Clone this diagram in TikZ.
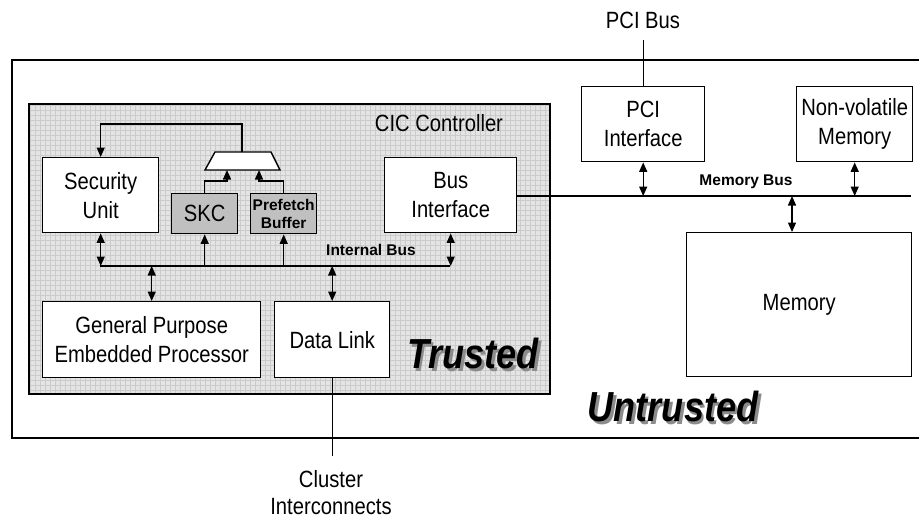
\documentclass[tikz,border=0pt]{standalone}
\usepackage{fontspec}
\setmainfont{Liberation Sans}[FakeStretch=0.86]
\newfontfamily\plainsans{Liberation Sans}
\usetikzlibrary{arrows.meta,calc}

\definecolor{trustbg}{RGB}{228,228,228}
\definecolor{gridln}{RGB}{203,203,203}
\definecolor{unitgray}{RGB}{192,192,192}
\definecolor{shade}{RGB}{140,140,140}

% bold italic word with an offset grey shadow behind it
\newcommand\shadowword[1]{\rlap{\hspace{2.8pt}\raisebox{-2.8pt}{\textcolor{shade}{#1}}}#1}

\begin{document}
\begin{tikzpicture}[x=1pt,y=-1pt,
  >={Triangle[length=9.5pt,width=8pt]},
  wire/.style={line width=1.4pt},
  box/.style={draw,line width=1.4pt,fill=white,inner sep=0pt,align=center,
    anchor=north west,font=\fontsize{23.5}{29}\selectfont},
  graybox/.style={box,fill=unitgray},
  boldlbl/.style={font=\plainsans\bfseries\fontsize{15.5}{18}\selectfont},
  reglbl/.style={align=center,font=\fontsize{23.5}{27}\selectfont},
  zone/.style={font=\bfseries\itshape\fontsize{42}{46}\selectfont}]

\useasboundingbox (0,0) rectangle (919,519);

% untrusted enclosure (right side runs off the page)
\draw[line width=1.8pt] (925,60) -- (12,60) -- (12,438) -- (925,438);

% trusted CIC controller area with grid background
\fill[trustbg] (29,104) rectangle (550,394);
\begin{scope}
  \clip (29,104) rectangle (550,394);
  \draw[gridln,line width=0.45pt,xstep=5pt,ystep=5pt] (25,100) grid (555,400);
\end{scope}
\draw[line width=1.6pt] (29,104) rectangle (550,394);
\node at (439,123) [reglbl] {CIC Controller};

% units
\node (su)  at (42,157)  [box,minimum width=116pt,minimum height=75pt] {Security\\Unit};
\node (skc) at (171,193) [graybox,minimum width=66pt,minimum height=40pt] {SKC};
\node (pf)  at (250,193) [graybox,minimum width=66pt,minimum height=40pt,
   font=\plainsans\bfseries\fontsize{15.5}{18}\selectfont] {Prefetch\\Buffer};
\node (bi)  at (384,157) [box,minimum width=132pt,minimum height=75pt] {Bus\\Interface};
\node (gp)  at (42,301)  [box,minimum width=218pt,minimum height=76pt] {General Purpose\\Embedded Processor};
\node (dl)  at (274,301) [box,minimum width=115pt,minimum height=76pt] {Data Link};
\node (pci) at (581,86)  [box,minimum width=123pt,minimum height=75pt] {PCI\\Interface};
\node (nvm) at (796,86)  [box,minimum width=116pt,minimum height=75pt] {Non-volatile\\Memory};
\node (mem) at (686,232) [box,minimum width=225pt,minimum height=144pt] {Memory};

% selector feeding the security unit
\coordinate (muxBL) at (205,170);
\coordinate (muxBR) at (280,170);
\coordinate (muxTR) at (271,152);
\coordinate (muxTL) at (215,152);
\coordinate (muxOut) at (242,152);
\coordinate (muxInA) at (227,170);
\coordinate (muxInB) at (259,170);
\draw[wire,fill=white] (muxBL) -- (muxBR) -- (muxTR) -- (muxTL) -- cycle;
\draw[wire,->] (skc.north) -- ++(0,-12) -| (muxInA);
\draw[wire,->] (pf.north) -- ++(0,-12) -| (muxInB);
\draw[wire,->] (muxOut) -- ++(0,-28) -| (su.north);

% internal bus
\coordinate (busL) at (100,266);
\coordinate (busR) at (450,266);
\draw[wire] (busL) -- (busR);
\node at (371,250) [boldlbl] {Internal Bus};
\draw[wire,<->] (su.south) -- (su.south |- busL);
\draw[wire,->] (skc.south |- busL) -- (skc.south);
\draw[wire,->] (pf.south |- busL) -- (pf.south);
\draw[wire,<->] (bi.south) -- (bi.south |- busL);
\draw[wire,<->] (gp.north |- busL) -- (gp.north);
\draw[wire,<->] (dl.north |- busL) -- (dl.north);

% memory bus
\coordinate (mbR) at (911,196);
\draw[wire] (bi.east |- mbR) -- (mbR);
\node at (746,182) [boldlbl] {Memory Bus};
\draw[wire,<->] (pci.south) -- (pci.south |- mbR);
\draw[wire,<->] (nvm.south) -- (nvm.south |- mbR);
\coordinate (memTap) at (792,196);
\draw[wire,<->] (memTap) -- (memTap |- mem.north);

% external links
\coordinate (pciEnd) at (643,40);
\draw[wire] (pci.north) -- (pci.north |- pciEnd);
\node at (643,20) [reglbl] {PCI Bus};
\coordinate (dlEnd) at (331,456);
\draw[wire] (dl.south) -- (dl.south |- dlEnd);
\node at (331,493) [reglbl] {Cluster\\Interconnects};

% zone labels
\node (trusted) at (473,355) [zone] {\shadowword{Trusted}};
\node (untrusted) at (673,408) [zone] {\shadowword{Untrusted}};
\end{tikzpicture}
\end{document}
